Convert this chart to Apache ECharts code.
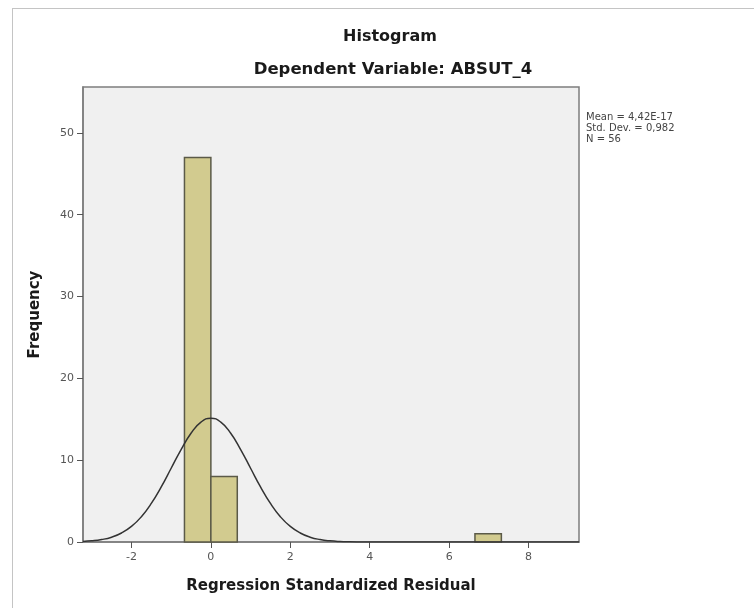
<!DOCTYPE html>
<html>
<head>
<meta charset="utf-8">
<script src="https://cdn.jsdelivr.net/npm/echarts@6/dist/echarts.min.js"></script>
<style>
html,body{margin:0;padding:0;background:#fff;}
#chart{width:754px;height:608px;}
</style>
</head>
<body>
<div id="chart"></div>
<script>
// Histogram bins (Regression Standardized Residual)
var binStarts = [-0.665, 0, 6.65];
var binEnds   = [0, 0.665, 7.315];
var counts    = [47, 8, 1];

// Normal curve points
var curveX = [-3.22, -3.0, -2.75, -2.5, -2.25, -2.0, -1.75, -1.5, -1.25, -1.0, -0.75, -0.5, -0.25, 0,
              0.25, 0.5, 0.75, 1.0, 1.25, 1.5, 1.75, 2.0, 2.25, 2.5, 2.75, 3.0, 3.25, 3.5, 4.0, 5.0, 6.0, 7.0, 8.0, 9.27];
var curveY = [0.07, 0.14, 0.30, 0.59, 1.10, 1.90, 3.09, 4.71, 6.73, 9.01, 11.30, 13.29, 14.65, 15.13,
              14.65, 13.29, 11.30, 9.01, 6.73, 4.71, 3.09, 1.90, 1.10, 0.59, 0.30, 0.14, 0.06, 0.03, 0.0, 0, 0, 0, 0, 0];

var xTicks = [-2, 0, 2, 4, 6, 8];
var yTicks = [0, 10, 20, 30, 40, 50];

var statsLines = ['Mean = 4,42E-17', 'Std. Dev. = 0,982', 'N = 56'];
var titleText = 'Histogram';
var subtitleText = 'Dependent Variable: ABSUT_4';

var chart = echarts.init(document.getElementById('chart'));

var barData = binStarts.map(function (s, i) { return [s, binEnds[i], counts[i]]; });
var curveData = curveX.map(function (x, i) { return [x, curveY[i]]; });

var FONT = '"DejaVu Sans", Verdana, sans-serif';

chart.setOption({
  animation: false,
  backgroundColor: '#ffffff',
  grid: {
    left: 83, top: 87, width: 496, height: 455,
    show: true, backgroundColor: '#f0f0f0', borderColor: '#7d7d7d', borderWidth: 1.5
  },
  xAxis: {
    type: 'value', min: -3.22, max: 9.27,
    name: 'Regression Standardized Residual', nameLocation: 'middle', nameGap: 37,
    nameTextStyle: { fontFamily: FONT, fontSize: 15, fontWeight: 'bold', color: '#1a1a1a' },
    axisLine: { show: true, onZero: false, lineStyle: { color: '#7d7d7d', width: 1.5 } },
    axisTick: { show: true, inside: false, length: 6, customValues: xTicks, lineStyle: { color: '#555' } },
    axisLabel: { customValues: xTicks, fontFamily: FONT, fontSize: 11, color: '#555', margin: 10 },
    splitLine: { show: false }
  },
  yAxis: {
    type: 'value', min: 0, max: 55.6,
    name: 'Frequency', nameLocation: 'middle', nameGap: 40, nameRotate: 90,
    nameTextStyle: { fontFamily: FONT, fontSize: 15, fontWeight: 'bold', color: '#1a1a1a' },
    axisLine: { show: true, onZero: false, lineStyle: { color: '#7d7d7d', width: 1.5 } },
    axisTick: { show: true, inside: false, length: 6, customValues: yTicks, lineStyle: { color: '#555' } },
    axisLabel: { customValues: yTicks, fontFamily: FONT, fontSize: 11, color: '#555', margin: 9 },
    splitLine: { show: false }
  },
  graphic: [
    { type: 'line', shape: { x1: 12, y1: 8.5, x2: 754, y2: 8.5 }, style: { stroke: '#c4c4c4', lineWidth: 1 } },
    { type: 'line', shape: { x1: 12.5, y1: 8, x2: 12.5, y2: 608 }, style: { stroke: '#c4c4c4', lineWidth: 1 } },
    { type: 'text', x: 390, y: 37, style: { text: titleText, font: 'bold 16px ' + FONT, fill: '#1a1a1a', textAlign: 'center', textVerticalAlign: 'middle' } },
    { type: 'text', x: 393, y: 70, style: { text: subtitleText, font: 'bold 16.5px ' + FONT, fill: '#1a1a1a', textAlign: 'center', textVerticalAlign: 'middle' } },
    { type: 'text', x: 586, y: 112, style: { text: statsLines.join('\n'), font: '10px ' + FONT, fill: '#444', lineHeight: 11, textAlign: 'left', textVerticalAlign: 'top' } }
  ],
  series: [
    {
      type: 'custom',
      data: barData,
      encode: { x: [0, 1], y: 2 },
      renderItem: function (params, api) {
        var p0 = api.coord([api.value(0), 0]);
        var p1 = api.coord([api.value(1), api.value(2)]);
        return {
          type: 'rect',
          shape: { x: p0[0], y: p1[1], width: p1[0] - p0[0], height: p0[1] - p1[1] },
          style: { fill: '#d2cb8f', stroke: '#5b5a48', lineWidth: 1.5 }
        };
      },
      z: 2
    },
    {
      type: 'line',
      data: curveData,
      smooth: true,
      showSymbol: false,
      lineStyle: { color: '#333333', width: 1.5 },
      z: 3
    }
  ]
});
</script>
</body>
</html>
